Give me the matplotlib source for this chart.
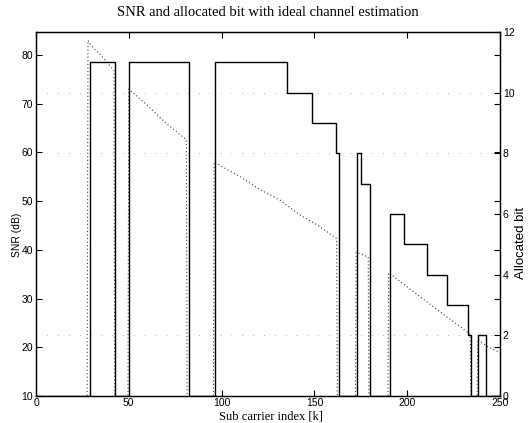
import matplotlib
matplotlib.use("Agg")
import matplotlib.pyplot as plt
import numpy as np

# ---- data ----
# allocated bits (step function, right axis); value holds from k until next k
bit_k = [0, 29, 42.7, 50.3, 82.4, 96.5, 135.5, 148.5, 161.5, 163, 173, 175, 180,
         190.5, 198.5, 210.5, 221.5, 232.5, 234.3, 238, 242.5, 250]
bit_val = [0, 11, 0, 11, 0, 11, 10, 9, 8, 0, 8, 7, 0,
           6, 5, 4, 3, 2, 0, 2, 0, 0]

# SNR in dB (left axis); values below 10 dB fall under the axis (deep fades)
snr_k = [0, 27.5, 28, 30, 36, 42, 42.5, 49.5, 50, 59, 70, 81, 81.5, 95.5, 96,
         110, 120, 131.5, 142, 152, 162, 162.5, 172, 172.5, 179, 179.5, 189.5,
         190, 200, 210, 220, 228, 234, 234.5, 237.5, 238, 243, 250]
snr_val = [0, 0, 83, 81.8, 79.5, 76.8, 0, 0, 73, 70, 66, 62.6, 0, 0, 58,
           55, 52.5, 50.2, 47.2, 45, 42.3, 0, 0, 39.5, 38.5, 0, 0,
           35.3, 32.4, 29.5, 26.6, 24.4, 22.6, 0, 0, 21.6, 20.2, 18.9]

grid_bits = [10, 8, 2]

x_ticks = [0, 50, 100, 150, 200, 250]
snr_ticks = [10, 20, 30, 40, 50, 60, 70, 80]
bit_ticks = [0, 2, 4, 6, 8, 10, 12]

title = "SNR and allocated bit with ideal channel estimation"
xlabel = "Sub carrier index [k]"
ylabel_left = "SNR (dB)"
ylabel_right = "Allocated bit"

# ---- figure ----
W, H = 531, 423
fig = plt.figure(figsize=(W / 100, H / 100), dpi=100)
ax1 = fig.add_axes([36 / W, 1 - 396 / H, (500 - 36) / W, (396 - 32) / H])
ax2 = ax1.twinx()

serif = "Liberation Serif"
sans = "Liberation Sans"

ax1.plot(snr_k, snr_val, color="0.25", lw=0.8, linestyle=(0, (1, 2.2)))
for b in grid_bits:
    ax2.plot([0, 250], [b, b], color="0.6", lw=0.6, linestyle=(0, (1, 12)))
ax2.step(bit_k, bit_val, where="post", color="black", lw=1.0)

ax1.set_xlim(0, 250)
ax1.set_ylim(10, 84.7)
ax2.set_ylim(0, 12)

ax1.set_xticks(x_ticks)
ax1.set_yticks(snr_ticks)
ax2.set_yticks(bit_ticks)

ax1.tick_params(axis="both", direction="in", length=4, width=0.8,
                top=True, right=True, labelsize=7.5, pad=2)
ax1.tick_params(axis="x", pad=1.5)
ax2.tick_params(axis="y", direction="in", length=4, width=0.8, labelsize=7.5, pad=2)
for lab in ax1.get_xticklabels() + ax1.get_yticklabels() + ax2.get_yticklabels():
    lab.set_fontfamily(sans)

for a in (ax1, ax2):
    for s in a.spines.values():
        s.set_linewidth(0.9)

fig.text(268 / W, 1 - 13 / H, title, ha="center", va="center",
         fontfamily=serif, fontsize=10.5)
fig.text(271 / W, 1 - 416 / H, xlabel, ha="center", va="center",
         fontfamily=serif, fontsize=9)
fig.text(17 / W, 1 - 235 / H, ylabel_left, ha="center", va="center",
         rotation=90, fontfamily=sans, fontsize=7.5)
fig.text(521 / W, 1 - 243 / H, ylabel_right, ha="center", va="center",
         rotation=90, fontfamily=sans, fontsize=9.5)

fig.savefig("out.png", dpi=100)
